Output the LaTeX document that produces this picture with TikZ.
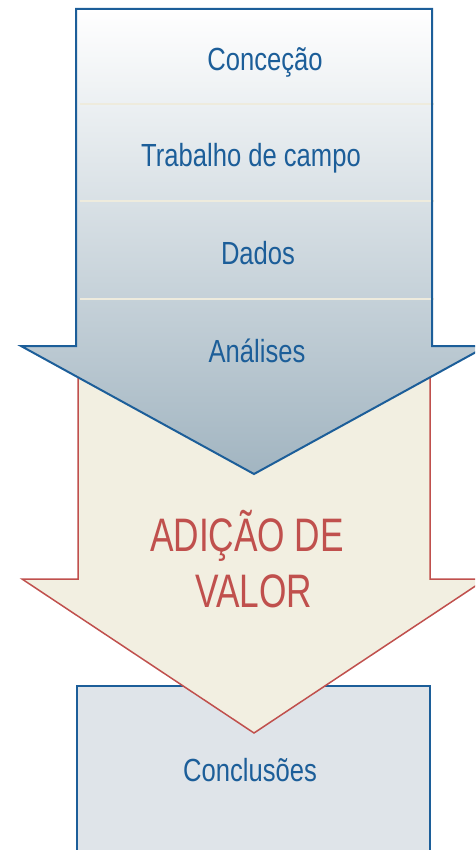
\documentclass[tikz,border=0pt]{standalone}
\usepackage{fontspec}
\setmainfont[FakeStretch=0.80]{Liberation Sans}
\newfontfamily\valuefont[FakeStretch=0.75]{Liberation Sans}
\definecolor{stageblue}{HTML}{1C5E99}
\definecolor{stagetop}{HTML}{FFFFFF}
\definecolor{stagebottom}{HTML}{A2B5C1}
\definecolor{valuered}{HTML}{C0504D}
\definecolor{valuecream}{HTML}{F2EFE1}
\definecolor{resultgrey}{HTML}{DFE4E9}
\definecolor{sepline}{HTML}{EEEBDD}
\tikzset{
	stagetext/.style={anchor=base, text=stageblue, font=\fontsize{32}{38}\selectfont},
	valuetext/.style={anchor=base, text=valuered, font=\valuefont\fontsize{47}{57}\selectfont},
}
\begin{document}
\begin{tikzpicture}[x=1pt,y=-1pt]
		\useasboundingbox (0,0) rectangle (475,850);
		\clip (0,0) rectangle (475,850);
		% box at the bottom
		\draw[fill=resultgrey, draw=stageblue, line width=2pt] (77,686) rectangle (430,870);
		% red arrow
		\draw[fill=valuecream, draw=valuered, line width=1.5pt, line join=miter] (78,300) -- (430,300) -- (430,579) -- (486,579) -- (254,733) -- (22,579) -- (78,579) -- cycle;
		% blue arrow
		\shade[top color=stagetop, bottom color=stagebottom] (76,9) -- (432,9) -- (432,346) -- (487,346) -- (254,474) -- (21,346) -- (76,346) -- cycle;
		\foreach \y in {104,201,299}
			\draw[sepline, line width=1.5pt] (80,\y) -- (434,\y);
		\draw[stageblue, line width=2pt, line join=miter] (76,9) -- (432,9) -- (432,346) -- (487,346) -- (254,474) -- (21,346) -- (76,346) -- cycle;
		\node[stagetext] (concecao) at (265,71) {Conceção};
		\node[stagetext] (campo) at (251,167) {Trabalho de campo};
		\node[stagetext] (dados) at (258,264) {Dados};
		\node[stagetext] (analises) at (257,362) {Análises};
		\node[valuetext] (adicao) at (247,551) {ADIÇÃO DE};
		\node[valuetext] (valor) at (254,607) {VALOR};
		\node[stagetext] (conclusoes) at (250,781) {Conclusões};
		\end{tikzpicture}
\end{document}
